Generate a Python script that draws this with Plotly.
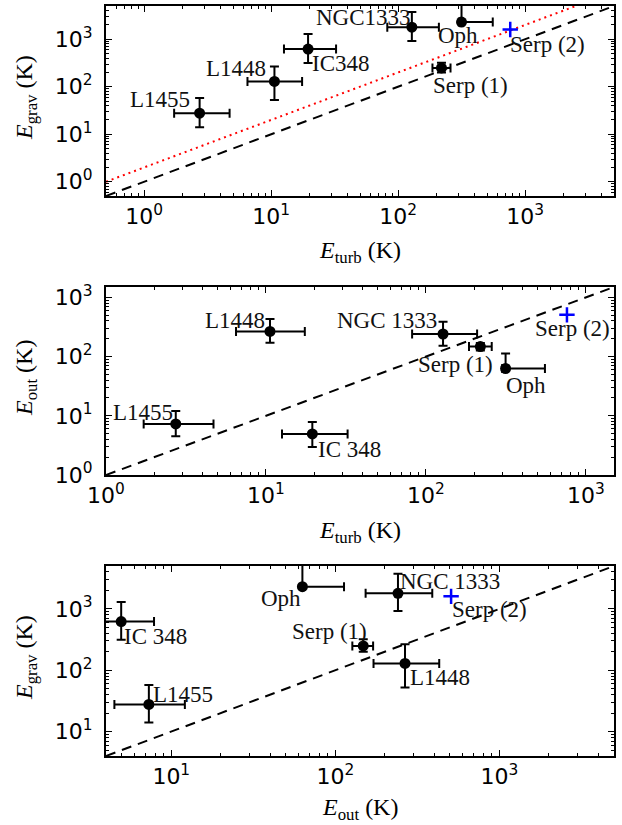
import numpy as np
import plotly.graph_objects as go

# ---------------- data ----------------
names_p1 = ["L1455", "L1448", "IC348", "NGC1333", "Oph", "Serp (1)"]
names_p23 = ["L1455", "L1448", "IC 348", "NGC 1333", "Oph", "Serp (1)"]

e_turb = [2.73, 10.6, 19.5, 128, 315, 219]
e_turb_lo = [1.72, 6.5, 12.6, 82, 300, 186]
e_turb_hi = [4.7, 17.5, 32.4, 209, 555, 258]

e_grav = [27.7, 129, 620, 1790, 2300, 249]
e_grav_lo = [14, 52.5, 315, 920, 2300, 200]
e_grav_hi = [57.5, 265, 1290, 3750, 6000, 320]

e_out = [7.3, 266, 4.95, 241, 63, 148]
e_out_lo = [4.5, 171, 2.98, 153, 63, 127]
e_out_hi = [12.1, 430, 7.85, 390, 113, 170]

serp2_name = "Serp (2)"
serp2_turb = [762]
serp2_grav = [1600]
serp2_out = [508]

tick_vals_dec = [-1, 0, 1, 2, 3]

# ---------------- layout helpers ----------------
W, H = 622, 825
X0, X1 = 106, 614
panels_px = [(6, 196), (287, 475), (566, 756)]
ranges = [
    ((0.5, 5000), (0.5, 5000)),
    ((1, 1500), (1, 1500)),
    ((4, 5000), (4, 5000)),
]

# label offsets (dx, dy) in screen px relative to point
offs = [
    [(-40, -14), (-38, -13), (33, 14), (-48, -10), (-4, 13), (29, 18)],
    [(-33, -11), (-35, -11), (37, 16), (-56, -14), (20, 17), (-25, 18)],
    [(34, -10), (35, 14), (34, 15), (52, -12), (-21, 12), (-34, -14)],
]
serp2_offs = [(37, 15), (6, 14), (38, 13)]

def arr(v):
    return np.array(v, dtype=float)

panel_data = [
    (arr(e_turb), arr(e_turb_lo), arr(e_turb_hi), arr(e_grav), arr(e_grav_lo), arr(e_grav_hi),
     serp2_turb, serp2_grav, names_p1),
    (arr(e_turb), arr(e_turb_lo), arr(e_turb_hi), arr(e_out), arr(e_out_lo), arr(e_out_hi),
     serp2_turb, serp2_out, names_p23),
    (arr(e_out), arr(e_out_lo), arr(e_out_hi), arr(e_grav), arr(e_grav_lo), arr(e_grav_hi),
     serp2_out, serp2_grav, names_p23),
]
xtitles = ["<i>E</i><sub>turb</sub> (K)", "<i>E</i><sub>turb</sub> (K)", "<i>E</i><sub>out</sub> (K)"]
ytitles = ["<i>E</i><sub>grav</sub> (K)", "<i>E</i><sub>out</sub> (K)", "<i>E</i><sub>grav</sub> (K)"]
xtitle_y = [252, 532, 809]

fig = go.Figure()
annotations = []
serif = "Liberation Serif, Times New Roman, serif"
sans = "DejaVu Sans, sans-serif"

for i in range(3):
    xa = "x" if i == 0 else f"x{i+1}"
    ya = "y" if i == 0 else f"y{i+1}"
    xv, xlo, xhi, yv, ylo, yhi, sx, sy, names = panel_data[i]
    (xr, yr) = ranges[i]

    # reference lines
    line_x = arr(xr)
    fig.add_trace(go.Scatter(x=line_x, y=line_x, mode="lines", xaxis=xa, yaxis=ya,
                             line=dict(color="black", width=2, dash="10px,7px"),
                             showlegend=False, hoverinfo="skip"))
    if i == 0:
        fig.add_trace(go.Scatter(x=line_x, y=2 * line_x, mode="lines", xaxis=xa, yaxis=ya,
                                 line=dict(color="red", width=2, dash="2px,4px"),
                                 showlegend=False, hoverinfo="skip"))

    fig.add_trace(go.Scatter(
        x=xv, y=yv, mode="markers", xaxis=xa, yaxis=ya,
        marker=dict(color="black", size=11),
        error_x=dict(type="data", symmetric=False, array=xhi - xv, arrayminus=xv - xlo,
                     color="black", thickness=2, width=4.5),
        error_y=dict(type="data", symmetric=False, array=yhi - yv, arrayminus=yv - ylo,
                     color="black", thickness=2, width=4.5),
        showlegend=False))
    fig.add_trace(go.Scatter(
        x=sx, y=sy, mode="markers", xaxis=xa, yaxis=ya,
        marker=dict(symbol="cross-thin", size=11, line=dict(color="#0000ff", width=2.5)),
        showlegend=False))

    lbl_font = dict(family=serif, size=23, color="#111111")
    for k, nm in enumerate(names):
        dx, dy = offs[i][k]
        annotations.append(dict(x=np.log10(xv[k]), y=np.log10(yv[k]), xref=xa, yref=ya,
                                text=nm, showarrow=False, xshift=dx, yshift=-dy,
                                xanchor="center", yanchor="middle", font=lbl_font))
    dx, dy = serp2_offs[i]
    annotations.append(dict(x=np.log10(sx[0]), y=np.log10(sy[0]), xref=xa, yref=ya,
                            text=serp2_name, showarrow=False, xshift=dx, yshift=-dy,
                            xanchor="center", yanchor="middle", font=lbl_font))

    top, bot = panels_px[i]
    axis_common = dict(type="log", showgrid=False, zeroline=False, showline=True,
                       linecolor="black", linewidth=2, mirror="ticks", automargin=False,
                       ticks="inside", ticklen=6, tickwidth=1, tickcolor="black",
                       minor=dict(ticks="inside", ticklen=3, tickwidth=1, tickcolor="black",
                                  dtick="D1", showgrid=False),
                       tickmode="array", tickvals=[10 ** d for d in tick_vals_dec],
                       ticktext=[f"10<sup>{d}</sup>" for d in tick_vals_dec],
                       tickfont=dict(family=sans, size=22, color="black"))
    fig.update_layout(**{
        ("xaxis" if i == 0 else f"xaxis{i+1}"): dict(
            axis_common, domain=[X0 / W, X1 / W], anchor=ya,
            range=[np.log10(xr[0]), np.log10(xr[1])], ticklabelstandoff=0),
        ("yaxis" if i == 0 else f"yaxis{i+1}"): dict(
            axis_common, domain=[1 - bot / H, 1 - top / H], anchor=xa,
            range=[np.log10(yr[0]), np.log10(yr[1])], ticklabelstandoff=7),
    })

    title_font = dict(family=serif, size=24, color="black")
    annotations.append(dict(x=(X0 + X1) / 2 / W, y=1 - xtitle_y[i] / H, xref="paper", yref="paper",
                            text=xtitles[i], showarrow=False, xanchor="center", yanchor="middle",
                            font=title_font))
    annotations.append(dict(x=26 / W, y=1 - ((top + bot) / 2 - 3) / H, xref="paper", yref="paper",
                            text=ytitles[i], showarrow=False, xanchor="center", yanchor="middle",
                            textangle=-90, font=title_font))

fig.update_layout(width=W, height=H, margin=dict(l=0, r=0, t=0, b=0, autoexpand=False),
                  plot_bgcolor="white", paper_bgcolor="white",
                  annotations=annotations)

fig.write_html("out.html", config={"displayModeBar": False},
               post_script="document.body.style.margin='0px';document.body.style.overflow='hidden';")
